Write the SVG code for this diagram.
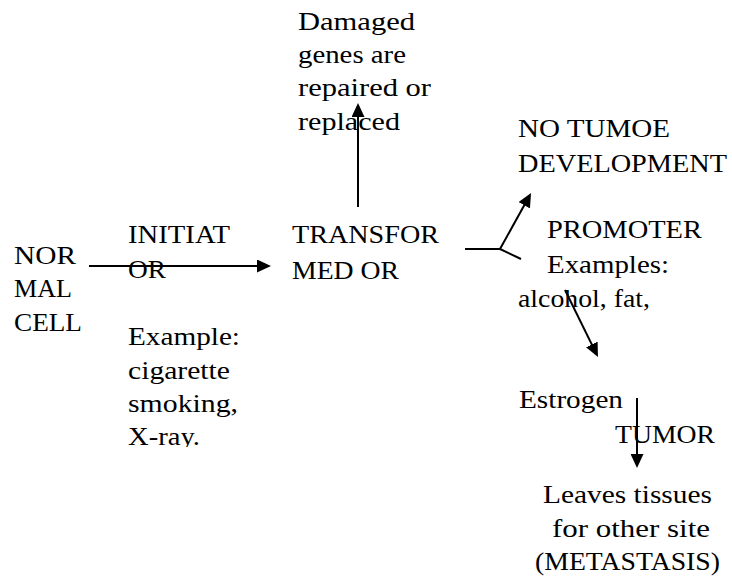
<svg xmlns="http://www.w3.org/2000/svg" width="732" height="585" viewBox="0 0 732 585">
<style>
text{font-family:"Liberation Serif","DejaVu Serif",serif;font-size:25px;fill:#000}
.c{stroke:#000;stroke-width:2;fill:none}
</style>
<defs>
<marker id="ah" markerUnits="userSpaceOnUse" markerWidth="14" markerHeight="13" refX="10" refY="6.5" orient="auto">
<path d="M0,0 L14,6.5 L0,13 z" fill="#000"/>
</marker>
<clipPath id="clipx"><rect x="100" y="420" width="200" height="27"/></clipPath>
</defs>
<rect width="732" height="585" fill="#fff"/>
<g id="connectors">
<line class="c" x1="89" y1="266" x2="267" y2="266" marker-end="url(#ah)"/>
<line class="c" x1="358" y1="207" x2="358" y2="107" marker-end="url(#ah)"/>
<line class="c" x1="465" y1="249" x2="500" y2="249"/>
<line class="c" x1="500" y1="249" x2="521" y2="259"/>
<line class="c" x1="500" y1="249" x2="529.1" y2="196.5" marker-end="url(#ah)"/>
<line class="c" x1="565" y1="290" x2="596.2" y2="353.4" marker-end="url(#ah)"/>
<line class="c" x1="637" y1="398" x2="637" y2="464" marker-end="url(#ah)"/>
</g>
<g id="normal-cell">
<text x="14" y="264" textLength="62" lengthAdjust="spacingAndGlyphs">NOR</text>
<text x="14" y="297" textLength="58" lengthAdjust="spacingAndGlyphs">MAL</text>
<text x="14" y="331" textLength="68" lengthAdjust="spacingAndGlyphs">CELL</text>
</g>
<g id="initiator">
<text x="128" y="243" textLength="102" lengthAdjust="spacingAndGlyphs">INITIAT</text>
<text x="128" y="278" textLength="38" lengthAdjust="spacingAndGlyphs">OR</text>
<text x="128" y="345" textLength="112" lengthAdjust="spacingAndGlyphs">Example:</text>
<text x="128" y="379" textLength="102" lengthAdjust="spacingAndGlyphs">cigarette</text>
<text x="128" y="412" textLength="110" lengthAdjust="spacingAndGlyphs">smoking,</text>
<text x="128" y="445" textLength="72" lengthAdjust="spacingAndGlyphs" clip-path="url(#clipx)">X-ray.</text>
</g>
<g id="repaired">
<text x="298" y="30" textLength="117" lengthAdjust="spacingAndGlyphs">Damaged</text>
<text x="298" y="63" textLength="108" lengthAdjust="spacingAndGlyphs">genes are</text>
<text x="298" y="96" textLength="133" lengthAdjust="spacingAndGlyphs">repaired or</text>
<text x="298" y="130" textLength="102" lengthAdjust="spacingAndGlyphs">replaced</text>
</g>
<g id="transformed">
<text x="292" y="243" textLength="147" lengthAdjust="spacingAndGlyphs">TRANSFOR</text>
<text x="292" y="279" textLength="107" lengthAdjust="spacingAndGlyphs">MED OR</text>
</g>
<g id="no-tumor">
<text x="518" y="137" textLength="152" lengthAdjust="spacingAndGlyphs">NO TUMOE</text>
<text x="518" y="172" textLength="209" lengthAdjust="spacingAndGlyphs">DEVELOPMENT</text>
</g>
<g id="promoter">
<text x="547" y="238" textLength="155" lengthAdjust="spacingAndGlyphs">PROMOTER</text>
<text x="547" y="273" textLength="122" lengthAdjust="spacingAndGlyphs">Examples:</text>
<text x="518" y="307" textLength="132" lengthAdjust="spacingAndGlyphs">alcohol, fat,</text>
</g>
<g id="tumor">
<text x="519" y="408" textLength="104" lengthAdjust="spacingAndGlyphs">Estrogen</text>
<text x="615" y="443" textLength="100" lengthAdjust="spacingAndGlyphs">TUMOR</text>
</g>
<g id="metastasis">
<text x="543" y="503" textLength="169" lengthAdjust="spacingAndGlyphs">Leaves tissues</text>
<text x="552" y="537" textLength="158" lengthAdjust="spacingAndGlyphs">for other site</text>
<text x="535" y="570" textLength="185" lengthAdjust="spacingAndGlyphs">(METASTASIS)</text>
</g>
</svg>
